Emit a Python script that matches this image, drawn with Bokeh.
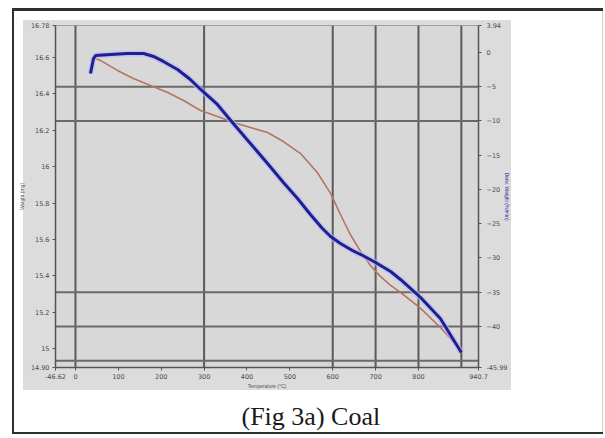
from bokeh.plotting import figure
from bokeh.models import Range1d, LinearAxis, FixedTicker, Span, Title
from bokeh.embed import file_html
from bokeh.resources import INLINE

# ---- data ----
temp_deriv = [35, 42, 47, 82, 121, 159, 182, 205, 238, 268, 292, 331, 368, 408, 448, 485,
              518, 548, 576, 595, 618, 646, 670, 700, 735, 758, 805, 851, 900]
deriv = [-3.07, -0.88, -0.44, -0.29, -0.15, -0.15, -0.58, -1.31, -2.48, -3.94, -5.40, -7.59,
         -10.36, -13.28, -16.20, -18.98, -21.31, -23.65, -25.69, -26.86, -27.88, -28.91,
         -29.64, -30.66, -31.97, -33.14, -35.77, -38.83, -43.80]

temp_weight = [42, 58, 98, 135, 175, 215, 252, 292, 338, 368, 408, 448, 485, 525, 564, 595,
               618, 641, 665, 688, 711, 735, 758, 805, 851, 900]
weight = [16.600, 16.584, 16.529, 16.485, 16.446, 16.408, 16.364, 16.309, 16.270, 16.243,
          16.215, 16.188, 16.138, 16.072, 15.968, 15.853, 15.737, 15.627, 15.534, 15.457,
          15.397, 15.347, 15.309, 15.221, 15.116, 14.990]

x_ticks = [-46.6, 0, 100, 200, 300, 400, 500, 600, 700, 800, 940.0]
x_labels = {-46.6: "-46.62", 940.0: "940.7"}
left_ticks = [16.776, 16.6, 16.4, 16.2, 16.0, 15.8, 15.6, 15.4, 15.2, 15.0, 14.896]
left_labels = {16.776: "16.78", 14.896: "14.90"}
right_ticks = [3.94, 0, -5, -10, -15, -20, -25, -30, -35, -40, -45.99]
right_labels = {3.94: "3.94", -45.99: "-45.99"}
v_grid = [0, 300, 600, 700, 800, 900]
h_grid = [-5, -10, -35, -40, -45]

caption = "(Fig 3a) Coal"

# ---- layout ----
W, H = 605, 438
FL, FR, FT, FB = 55, 478, 25, 367  # frame edges in canvas px

p = figure(width=W, height=H, output_backend="svg", toolbar_location=None,
           x_range=Range1d(-46.6, 940.0), y_range=Range1d(14.896, 16.776),
           min_border_left=FL, min_border_right=W - FR, min_border_top=FT,
           min_border_bottom=H - FB)
p.extra_y_ranges = {"deriv": Range1d(-45.99, 3.94)}
p.border_fill_alpha = 0
p.background_fill_color = "#d8d8d8"
p.outline_line_color = "#a0a0a0"
p.xgrid.grid_line_color = None
p.ygrid.grid_line_color = None

# page decoration behind the transparent canvas: gray panel and outer frame
p.styles = {
    "background-color": "#ffffff",
    "background-image": ", ".join(["linear-gradient(#2e2e2e,#2e2e2e)"] * 3
                                  + ["linear-gradient(#d0d0d0,#d0d0d0)",
                                     "linear-gradient(#dcdcdc,#dcdcdc)"]),
    "background-position": "12px 8px, 12px 8px, 12px 432px, 602px 8px, 23px 20px",
    "background-size": "591px 3px, 2px 426px, 591px 2px, 1px 426px, 488px 370px",
    "background-repeat": "no-repeat",
}

def style_axis(ax, size="6.5px"):
    ax.axis_line_color = "#555555"
    ax.axis_line_width = 1.5
    ax.major_tick_line_color = "#555555"
    ax.major_tick_out = 3
    ax.major_tick_in = 0
    ax.minor_tick_line_color = None
    ax.major_label_text_font_size = size
    ax.major_label_text_color = "#4a4a4a"
    ax.major_label_text_font = "DejaVu Sans"
    ax.major_label_standoff = 3
    ax.axis_label_text_font_size = "5px"
    ax.axis_label_text_font_style = "normal"
    ax.axis_label_text_color = "#555555"
    ax.axis_label_standoff = 3

xa = p.xaxis[0]
xa.ticker = FixedTicker(ticks=x_ticks)
xa.major_label_overrides = x_labels
xa.axis_label = "Temperature (°C)"
style_axis(xa)
xa.axis_label_standoff = 1

ya = p.yaxis[0]
ya.ticker = FixedTicker(ticks=left_ticks)
ya.major_label_overrides = left_labels
ya.axis_label = "Weight (mg)"
style_axis(ya)

ra = LinearAxis(y_range_name="deriv", ticker=FixedTicker(ticks=right_ticks),
                major_label_overrides=right_labels, axis_label="Deriv. Weight (%/min)")
style_axis(ra)
ra.major_label_standoff = 5
ra.axis_label_standoff = -6
ra.axis_label_text_color = "#2a2a9a"
p.add_layout(ra, "right")

for xv in v_grid:
    p.add_layout(Span(location=xv, dimension="height", line_color="#5a5a5a",
                      line_width=2, level="underlay"))
for yv in h_grid:
    p.add_layout(Span(location=yv, dimension="width", line_color="#6a6a6a",
                      line_width=2, level="underlay", y_range_name="deriv"))

# curves
p.line(temp_weight, weight, line_color="#b47560", line_width=1.6)
p.line(temp_deriv, deriv, y_range_name="deriv", line_color="#b8b8f0", line_width=6, line_alpha=0.6)
p.line(temp_deriv, deriv, y_range_name="deriv", line_color="#1f1f95", line_width=3)

cap = Title(text=caption, align="left", offset=186, standoff=16,
            text_font="Liberation Serif", text_font_size="26px",
            text_font_style="normal", text_color="#1a1a1a")
p.add_layout(cap, "below")

open("out.html", "w").write(file_html(p, INLINE))
